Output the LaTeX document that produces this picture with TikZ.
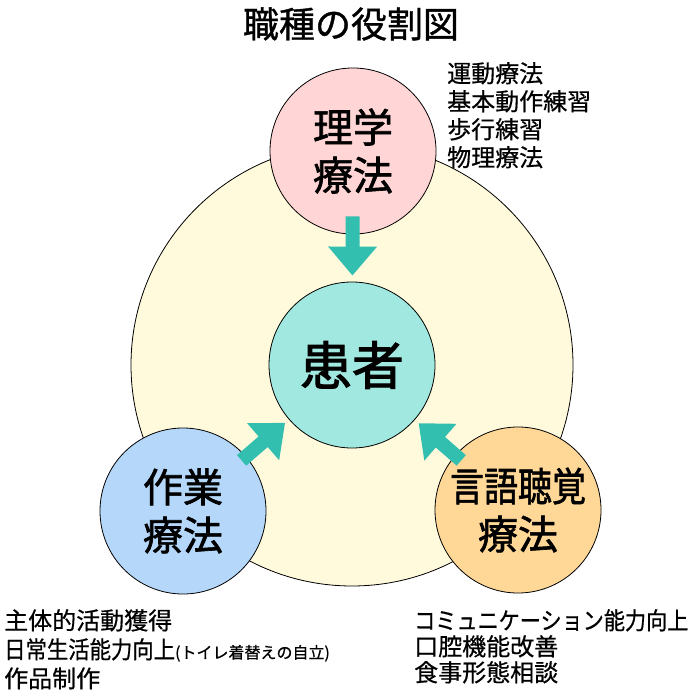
\documentclass[tikz,border=0pt]{standalone}
\usepackage{fontspec}
\setmainfont{Noto Sans CJK JP}[FakeBold=0.6]
\usetikzlibrary{arrows.meta,positioning}

\definecolor{cream}{HTML}{FFFADC}
\definecolor{ptpink}{HTML}{FFD5D5}
\definecolor{patientteal}{HTML}{A0E8E0}
\definecolor{otblue}{HTML}{B4D7FA}
\definecolor{storange}{HTML}{FFD898}
\definecolor{arrowteal}{HTML}{33BFB0}

\begin{document}
\begin{tikzpicture}[
    x=1pt, y=-1pt,
    circ/.style={draw, circle, line width=0.8pt, minimum size=166pt, inner sep=0pt, align=center, font=\fontsize{40}{48}\selectfont\addfontfeature{FakeBold=1.6}},
    therapy/.style={circ},
    arrow/.style={draw=arrowteal, line width=14pt, -{Triangle[width=47pt,length=29pt]}},
    note/.style={anchor=north west, inner sep=0pt, align=left, font=\fontsize{24}{28}\selectfont}
]
\useasboundingbox (0,0) rectangle (700,700);

% Title
\node[font=\fontsize{36}{40}\selectfont\addfontfeature{FakeBold=1}] (title) at (351,24) {職種の役割図};

% Nodes
\node[circ, minimum size=442pt, fill=cream] (field) at (352,365) {};
\node[therapy, fill=ptpink] (pt) at (353,151) {理学\\療法};
\node[circ, fill=patientteal, font=\fontsize{52}{56}\selectfont\addfontfeature{FakeBold=2}] (patient) at (352,365) {患者};
\node[therapy, fill=otblue] (ot) at (183,511) {作業\\療法};
\node[therapy, fill=storange] (st) at (518,510) {\scalebox{0.85}[1]{言語聴覚}\\療法};

% Arrows
\draw[arrow, shorten <=-18pt, shorten >=6pt] (pt) -- (patient);
\draw[arrow, shorten <=-6pt, shorten >=5pt] (ot) -- (patient);
\draw[arrow, shorten <=-8pt, shorten >=5pt] (st) -- (patient);

% Notes
\node[note] (ptnote) at (447,62) {運動療法\\基本動作練習\\歩行練習\\物理療法};
\node[note, font=\fontsize{24}{29}\selectfont] (otnote) at (4,609) {主体的活動獲得\\\scalebox{0.89}[1]{日常生活能力向上}{\fontsize{16}{16}\selectfont(トイレ着替えの自立)}\\作品制作};
\node[note, font=\fontsize{24}{26}\selectfont] (stnote) at (414,609) {\scalebox{0.88}[1]{コミュニケーション能力向上}\\口腔機能改善\\食事形態相談};

\end{tikzpicture}
\end{document}
